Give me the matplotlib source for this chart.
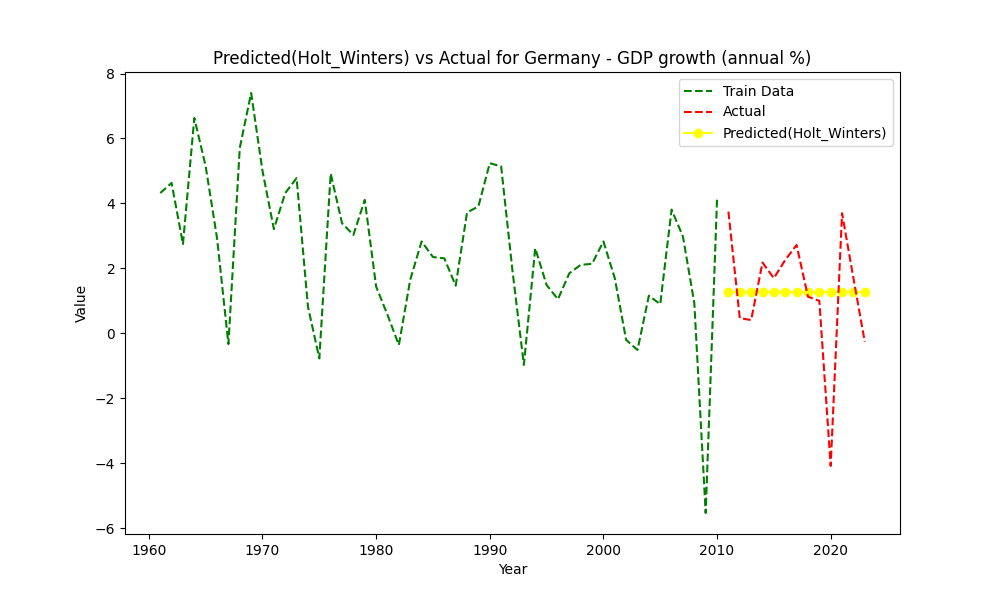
import numpy as np
import matplotlib.pyplot as plt

train_years = list(range(1961, 2011))
train_vals = [4.32, 4.63, 2.75, 6.63, 5.14, 2.93, -0.33, 5.71, 7.40, 5.0,
              3.21, 4.32, 4.78, 0.82, -0.77, 4.92, 3.39, 3.03, 4.11, 1.44,
              0.57, -0.36, 1.65, 2.83, 2.35, 2.31, 1.47, 3.72, 3.91, 5.24,
              5.14, 1.92, -0.97, 2.62, 1.49, 1.05, 1.85, 2.11, 2.14, 2.83,
              1.70, -0.20, -0.51, 1.16, 0.90, 3.81, 2.98, 0.93, -5.53, 4.13]

test_years = list(range(2011, 2024))
actual_vals = [3.75, 0.47, 0.41, 2.18, 1.70, 2.26, 2.72, 1.13, 1.0, -4.08, 3.70, 1.70, -0.26]
pred_vals = [1.27] * len(test_years)

fig, ax = plt.subplots(figsize=(10, 6))
ax.plot(train_years, train_vals, '--', color='green', label='Train Data', zorder=3)
ax.plot(test_years, actual_vals, '--', color='red', label='Actual', zorder=3)
ax.plot(test_years, pred_vals, '-o', color='yellow', label='Predicted(Holt_Winters)', zorder=2)

ax.set_title('Predicted(Holt_Winters) vs Actual for Germany - GDP growth (annual %)')
ax.set_xlabel('Year')
ax.set_ylabel('Value')
ax.legend(loc='upper right')

plt.savefig('out.png', dpi=100)
